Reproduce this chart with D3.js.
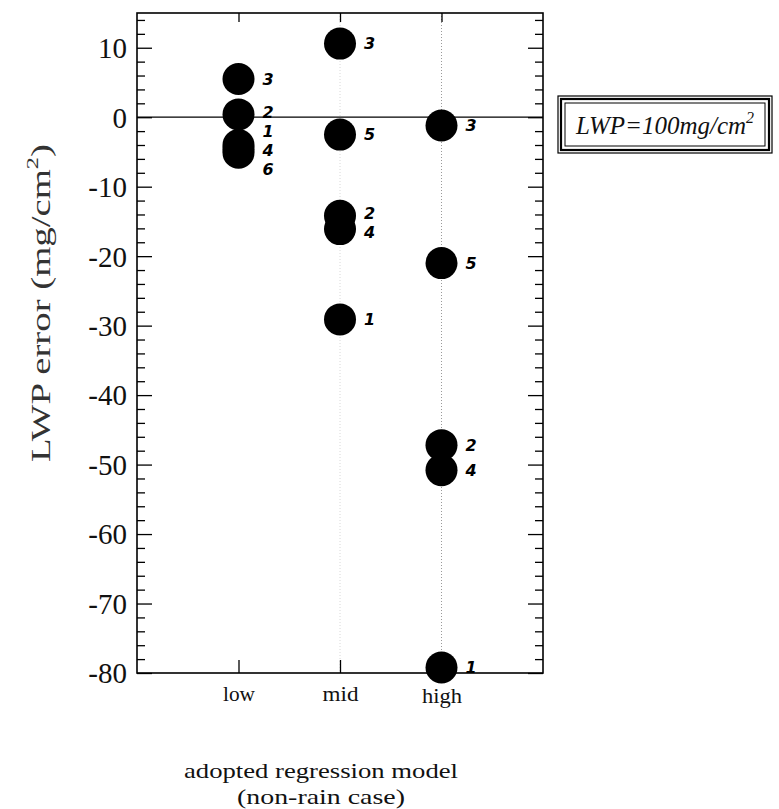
<!DOCTYPE html>
<html>
<head>
<meta charset="utf-8">
<script src="https://cdn.jsdelivr.net/npm/d3@7"></script>
<style>
  html, body { margin: 0; padding: 0; background: #fff; }
  svg { display: block; }
</style>
</head>
<body>
<div id="chart"></div>
<script>
// Regression-model categories and y-axis ticks
const categories = ["low", "mid", "high"];
const yMajorTicks = [10, 0, -10, -20, -30, -40, -50, -60, -70, -80];

// LWP retrieval error (mg/cm^2) per case number, for each adopted model
const lowCase = [3, 2, 1, 4, 6];
const lowError = [5.5, 0.4, -4.0, -4.6, -5.1];
const midCase = [3, 5, 2, 4, 1];
const midError = [10.6, -2.5, -14.2, -16.1, -29.1];
const highCase = [3, 5, 2, 4, 1];
const highError = [-1.2, -21.0, -47.2, -50.8, -79.2];

const legendText = "LWP=100mg/cm";

const W = 779, H = 809;
const plotL = 137, plotR = 543, plotT = 13, plotB = 673;

const svg = d3.select("#chart").append("svg")
  .attr("width", W).attr("height", H);

const x = d3.scalePoint().domain(categories).range([plotL, plotR]).padding(1);
const y = d3.scaleLinear().domain([-80, 15]).range([plotB, plotT]);

const serif = "Liberation Serif, Times New Roman, serif";
const hand = "DejaVu Sans, sans-serif";

// faint dotted guides at mid and high
svg.append("g").selectAll("line").data(["mid", "high"]).join("line")
  .attr("x1", d => x(d)).attr("x2", d => x(d))
  .attr("y1", plotT).attr("y2", plotB)
  .attr("stroke", d => d === "high" ? "#9a9a9a" : "#d8d8d8")
  .attr("stroke-width", 1)
  .attr("stroke-dasharray", "1,2");

// zero line
svg.append("line")
  .attr("x1", plotL).attr("x2", plotR)
  .attr("y1", y(0)).attr("y2", y(0))
  .attr("stroke", "#000").attr("stroke-width", 1.3);

const minorTicks = d3.range(-80, 15.01, 2).filter(v => v % 10 !== 0);

function styleAxis(g) {
  g.selectAll(".domain").remove();
  g.selectAll(".tick line").attr("stroke", "#000").attr("stroke-width", 1.3);
}

// left axis: major ticks with labels, minor ticks
svg.append("g").attr("transform", `translate(${plotL},0)`)
  .call(d3.axisLeft(y).tickValues(yMajorTicks).tickSize(-15).tickPadding(10).tickFormat(d => String(d)))
  .call(styleAxis)
  .call(g => g.selectAll("text")
    .style("font-family", serif).style("font-size", "29px").attr("fill", "#111")
    .attr("dy", "0.34em"));
svg.append("g").attr("transform", `translate(${plotL},0)`)
  .call(d3.axisLeft(y).tickValues(minorTicks).tickSize(-8).tickFormat(""))
  .call(styleAxis);

// right axis: inward ticks only
svg.append("g").attr("transform", `translate(${plotR},0)`)
  .call(d3.axisRight(y).tickValues(yMajorTicks).tickSize(-15).tickFormat(""))
  .call(styleAxis);
svg.append("g").attr("transform", `translate(${plotR},0)`)
  .call(d3.axisRight(y).tickValues(minorTicks).tickSize(-8).tickFormat(""))
  .call(styleAxis);

// top axis: category ticks
svg.append("g").attr("transform", `translate(0,${plotT})`)
  .call(d3.axisTop(x).tickSize(-9).tickFormat(""))
  .call(styleAxis);

// bottom axis: category ticks and names
svg.append("g").attr("transform", `translate(0,${plotB})`)
  .call(d3.axisBottom(x).tickSize(-13).tickPadding(14))
  .call(styleAxis)
  .call(g => g.selectAll("text")
    .style("font-family", serif).attr("fill", "#111")
    .style("font-size", d => d === "high" ? "22px" : "20px")
    .attr("dy", d => d === "high" ? "0.72em" : "0.71em")
    .attr("textLength", d => d === "high" ? 40 : (d === "low" ? 32 : 36))
    .attr("lengthAdjust", "spacingAndGlyphs"));

// frame
svg.append("rect")
  .attr("x", plotL).attr("y", plotT)
  .attr("width", plotR - plotL).attr("height", plotB - plotT)
  .attr("fill", "none").attr("stroke", "#000").attr("stroke-width", 1.6);

// points
const groups = [
  { cat: "low", cases: lowCase, values: lowError },
  { cat: "mid", cases: midCase, values: midError },
  { cat: "high", cases: highCase, values: highError }
];

const r = 16;
groups.forEach(grp => {
  const pts = grp.values.map((v, i) => ({ cat: grp.cat, id: grp.cases[i], v }));
  svg.append("g").selectAll("circle").data(pts).join("circle")
    .attr("cx", d => x(d.cat)).attr("cy", d => y(d.v))
    .attr("r", r).attr("fill", "#000");

  // case-number labels, spread apart where points overlap
  const order = pts.slice().sort((a, b) => y(a.v) - y(b.v));
  const minGap = 19;
  order.forEach(p => { p.ly = y(p.v); });
  for (let k = 0; k < 40; k++) {
    for (let i = 1; i < order.length; i++) {
      const gap = order[i].ly - order[i - 1].ly;
      if (gap < minGap) {
        const push = (minGap - gap) / 2;
        order[i].ly += push;
        order[i - 1].ly -= push;
      }
    }
  }
  svg.append("g").selectAll("text").data(order).join("text")
    .attr("x", d => x(d.cat) + 24)
    .attr("y", d => d.ly)
    .attr("dy", "0.36em")
    .style("font-family", hand)
    .style("font-weight", "bold")
    .style("font-style", "italic")
    .style("font-size", "16px")
    .attr("fill", "#000")
    .text(d => d.id);
});

// y-axis title
svg.append("text")
  .attr("transform", "translate(50,303) rotate(-90)")
  .attr("text-anchor", "middle")
  .style("font-family", serif).style("font-size", "27px").attr("fill", "#333")
  .attr("textLength", 318).attr("lengthAdjust", "spacingAndGlyphs")
  .call(t => {
    t.append("tspan").text("LWP error  (mg/cm");
    t.append("tspan").attr("dy", -12).style("font-size", "17px").text("2");
    t.append("tspan").attr("dy", 12).text(")");
  });

// x-axis title
svg.append("text")
  .attr("x", 321).attr("y", 778)
  .attr("text-anchor", "middle")
  .style("font-family", serif).style("font-size", "22px").attr("fill", "#111")
  .attr("textLength", 274).attr("lengthAdjust", "spacingAndGlyphs")
  .text("adopted regression model");
svg.append("text")
  .attr("x", 321).attr("y", 804)
  .attr("text-anchor", "middle")
  .style("font-family", serif).style("font-size", "22px").attr("fill", "#111")
  .attr("textLength", 168).attr("lengthAdjust", "spacingAndGlyphs")
  .text("(non-rain case)");

// boxed annotation with a triple border
const bx = 558, by = 96, bw = 214, bh = 57;
svg.append("rect").attr("x", bx).attr("y", by).attr("width", bw).attr("height", bh)
  .attr("fill", "#fff").attr("stroke", "#000").attr("stroke-width", 1.2);
svg.append("rect").attr("x", bx + 3).attr("y", by + 3).attr("width", bw - 6).attr("height", bh - 6)
  .attr("fill", "none").attr("stroke", "#000").attr("stroke-width", 2.2);
svg.append("rect").attr("x", bx + 7).attr("y", by + 7).attr("width", bw - 14).attr("height", bh - 14)
  .attr("fill", "none").attr("stroke", "#000").attr("stroke-width", 1);
svg.append("text")
  .attr("x", bx + bw / 2).attr("y", by + 38)
  .attr("text-anchor", "middle")
  .style("font-family", serif).style("font-style", "italic")
  .style("font-size", "25px").attr("fill", "#111")
  .call(t => {
    t.append("tspan").text(legendText);
    t.append("tspan").attr("dy", -11).style("font-size", "16px").text("2");
  });
</script>
</body>
</html>
